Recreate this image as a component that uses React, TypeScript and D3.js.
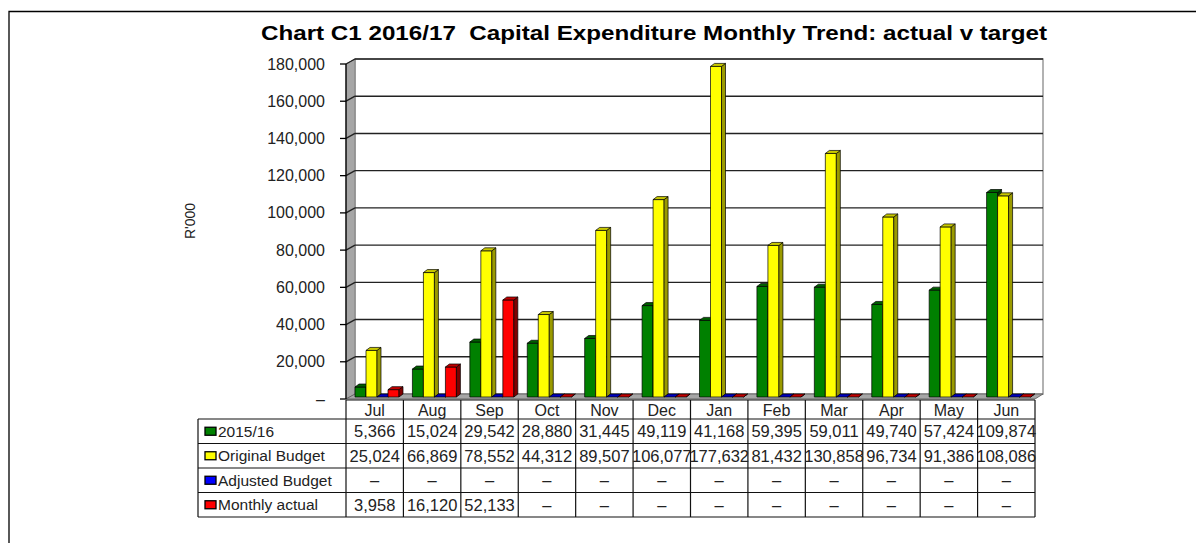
import React from "react";
import * as d3 from "d3";

const months = ["Jul", "Aug", "Sep", "Oct", "Nov", "Dec", "Jan", "Feb", "Mar", "Apr", "May", "Jun"];
const seriesNames = ["2015/16", "Original Budget", "Adjusted Budget", "Monthly actual"];
const prior = [5366, 15024, 29542, 28880, 31445, 49119, 41168, 59395, 59011, 49740, 57424, 109874];
const originalBudget = [25024, 66869, 78552, 44312, 89507, 106077, 177632, 81432, 130858, 96734, 91386, 108086];
const adjustedBudget: (number | null)[] = [null, null, null, null, null, null, null, null, null, null, null, null];
const monthlyActual: (number | null)[] = [3958, 16120, 52133, null, null, null, null, null, null, null, null, null];
const yTicks = [0, 20000, 40000, 60000, 80000, 100000, 120000, 140000, 160000, 180000];

const seriesValues = [prior, originalBudget, adjustedBudget, monthlyActual];
const colors = [
  { face: "#008000", side: "#004000", top: "#006000" },
  { face: "#ffff00", side: "#9a9a00", top: "#c8c800" },
  { face: "#0000ff", side: "#000080", top: "#0000c0" },
  { face: "#ff0000", side: "#800000", top: "#c00000" },
];

const FONT = "'Liberation Sans', Arial, sans-serif";
const fmt = d3.format(",");

export default function App() {
  const W = 1196;
  const H = 543;
  const left = 346;
  const right = 1035;
  const depthX = 9;
  const depthY = 5;

  const x = d3.scaleBand<string>().domain(months).range([left, right]);
  const y = d3.scaleLinear().domain([0, 180000]).range([399, 64]);
  const inner = d3.scaleBand<string>().domain(seriesNames).range([9, 53]);
  const bw = inner.bandwidth();
  const bdx = 4;
  const bdy = 3;

  const rowTop = 400;
  const headH = 19;
  const rowH = 24.5;
  const legendLeft = 198;

  const bars: React.ReactNode[] = [];
  months.forEach((m, mi) => {
    seriesNames.forEach((s, si) => {
      const v = seriesValues[si][mi] ?? 0;
      const bx = (x(m) ?? 0) + (inner(s) ?? 0);
      const base = y(0) - 2;
      const top = y(v) - 2;
      const c = colors[si];
      bars.push(
        <g key={`${m}-${s}`} stroke="#000" strokeWidth={0.7} strokeLinejoin="round">
          {v > 0 && <rect x={bx} y={top} width={bw} height={base - top} fill={c.face} />}
          <polygon
            points={`${bx + bw},${top} ${bx + bw + bdx},${top - bdy} ${bx + bw + bdx},${base - bdy} ${bx + bw},${base}`}
            fill={c.side}
          />
          <polygon
            points={`${bx},${top} ${bx + bdx},${top - bdy} ${bx + bw + bdx},${top - bdy} ${bx + bw},${top}`}
            fill={c.top}
          />
        </g>,
      );
    });
  });

  return (
    <svg width={W} height={H} style={{ position: "absolute", left: 0, top: 0 }}>
      <rect x={0} y={0} width={W} height={H} fill="#fff" />
      {/* outer frame */}
      <path d={`M9,${H} L9,11.5 L${W},11.5`} fill="none" stroke="#000" strokeWidth={1.3} />

      <text
        x={261}
        y={40}
        fontFamily={FONT}
        fontWeight="bold"
        fontSize={21}
        fill="#000"
        textLength={786}
        lengthAdjust="spacingAndGlyphs"
        style={{ whiteSpace: "pre" }}
      >
        {"Chart C1 2016/17  Capital Expenditure Monthly Trend: actual v target"}
      </text>

      {/* back wall */}
      <rect
        x={left + depthX}
        y={y(180000) - depthY}
        width={right + depthX - 1 - (left + depthX)}
        height={y(0) - y(180000)}
        fill="#fff"
        stroke="#999"
        strokeWidth={1.5}
      />
      {/* left wall */}
      <polygon
        points={`${left},${y(180000)} ${left + depthX},${y(180000) - depthY} ${left + depthX},${y(0) - depthY} ${left},${y(0)}`}
        fill="#a6a6a6"
        stroke="#777"
        strokeWidth={0.8}
      />
      {/* gridlines */}
      {yTicks.slice(1).map((t) => (
        <g key={t} stroke="#222" strokeWidth={1.4}>
          <line x1={left + depthX} x2={right + depthX - 1} y1={y(t) - depthY} y2={y(t) - depthY} />
          <line x1={left} x2={left + depthX} y1={y(t)} y2={y(t) - depthY} />
        </g>
      ))}
      {/* floor */}
      <polygon
        points={`${left},${y(0)} ${left + depthX},${y(0) - depthY} ${right + depthX - 1},${y(0) - depthY} ${right},${y(0)}`}
        fill="#a6a6a6"
        stroke="#555"
        strokeWidth={0.8}
      />

      {bars}

      {/* y axis */}
      <line x1={left} x2={left} y1={y(180000)} y2={y(0)} stroke="#000" strokeWidth={1.3} />
      {yTicks.map((t) => (
        <g key={t}>
          <line x1={left - 6} x2={left} y1={y(t)} y2={y(t)} stroke="#000" strokeWidth={1.3} />
          <text
            x={325}
            y={y(t)}
            dy="0.35em"
            textAnchor="end"
            fontFamily={FONT}
            fontSize={16}
            fill="#222"
          >
            {t === 0 ? "–" : fmt(t)}
          </text>
        </g>
      ))}
      <text
        transform={`translate(195,221) rotate(-90)`}
        textAnchor="middle"
        fontFamily={FONT}
        fontSize={14}
        fill="#222"
      >
        R'000
      </text>

      {/* data table */}
      <g stroke="#111" strokeWidth={1.2} fill="none">
        <line x1={left} x2={right} y1={rowTop} y2={rowTop} />
        {[...months.map((m) => x(m) ?? 0), right].map((xx, i) => (
          <line key={i} x1={xx} x2={xx} y1={rowTop} y2={rowTop + headH + rowH * 4} />
        ))}
        <line x1={legendLeft} x2={legendLeft} y1={rowTop + headH} y2={rowTop + headH + rowH * 4} />
        {[0, 1, 2, 3, 4].map((r) => (
          <line
            key={r}
            x1={legendLeft}
            x2={right}
            y1={rowTop + headH + rowH * r}
            y2={rowTop + headH + rowH * r}
          />
        ))}
      </g>
      {months.map((m) => (
        <text
          key={m}
          x={(x(m) ?? 0) + x.bandwidth() / 2}
          y={rowTop + headH / 2 + 1}
          dy="0.36em"
          textAnchor="middle"
          fontFamily={FONT}
          fontSize={16}
          fill="#222"
        >
          {m}
        </text>
      ))}
      {seriesNames.map((s, si) => {
        const cy = rowTop + headH + rowH * si + rowH / 2;
        return (
          <g key={s}>
            <rect x={205} y={cy - 4} width={11} height={8} fill={colors[si].face} stroke="#000" strokeWidth={1.3} />
            <text x={218} y={cy} dy="0.36em" fontFamily={FONT} fontSize={15.5} fill="#222">
              {s}
            </text>
            {months.map((m, mi) => {
              const v = seriesValues[si][mi];
              return (
                <text
                  key={m}
                  x={(x(m) ?? 0) + x.bandwidth() / 2}
                  y={cy}
                  dy="0.36em"
                  textAnchor="middle"
                  fontFamily={FONT}
                  fontSize={16.5}
                  fill="#222"
                >
                  {v == null || v === 0 ? "–" : fmt(v)}
                </text>
              );
            })}
          </g>
        );
      })}
    </svg>
  );
}
